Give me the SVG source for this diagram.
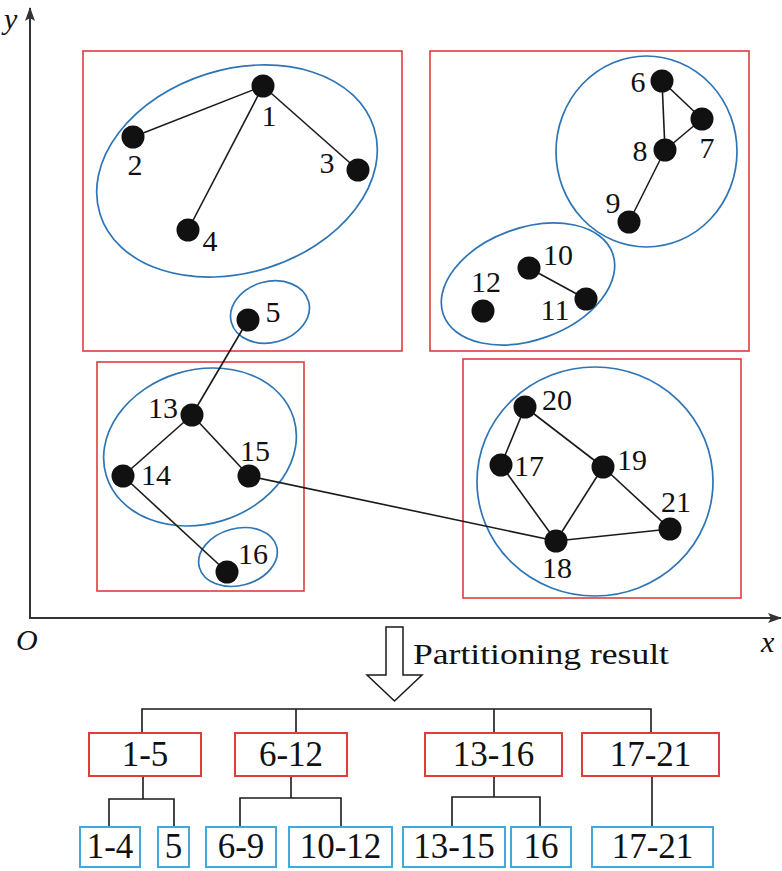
<svg xmlns="http://www.w3.org/2000/svg" width="782" height="871" viewBox="0 0 782 871">
<style>
.edge{stroke:#1a1a1a;stroke-width:1.6;fill:none}
.axis{stroke:#333;stroke-width:2;fill:none}
.rbox{fill:none;stroke:#e03c3c;stroke-width:1.6}
.bbox{fill:#fff;stroke:#42a9da;stroke-width:2}
.rlab{fill:#fff;stroke:#e03c3c;stroke-width:2}
.ell{fill:none;stroke:#2e75b5;stroke-width:1.7}
.node{fill:#111}
.lbl{font-family:'Liberation Serif','Times New Roman',Tinos,serif;font-size:30px;fill:#111;text-anchor:middle}
.tl{font-family:'Liberation Serif','Times New Roman',Tinos,serif;font-size:35px;fill:#111;text-anchor:middle}
.ax{font-family:'Liberation Serif','Times New Roman',Tinos,serif;font-style:italic;font-size:30px;fill:#111}
.pr{font-family:'Liberation Serif','Times New Roman',Tinos,serif;font-size:28.5px;fill:#111}
</style>
<defs>
<marker id="arr" markerWidth="14" markerHeight="10" refX="13" refY="5" orient="auto" markerUnits="userSpaceOnUse">
<path d="M0,0 L14,5 L0,10 L3,5 Z" fill="#333"/>
</marker>
</defs>

<g id="axes">
<line class="axis" x1="30" y1="618" x2="30" y2="8" marker-end="url(#arr)"/>
<line class="axis" x1="29" y1="618" x2="781" y2="618" marker-end="url(#arr)"/>
<text class="ax" x="4" y="29">y</text>
<text class="ax" x="16" y="650">O</text>
<text class="ax" x="761" y="652">x</text>
</g>

<g id="regions">
<rect class="rbox" x="83" y="51" width="319" height="300"/>
<rect class="rbox" x="430" y="51" width="319" height="300"/>
<rect class="rbox" x="97" y="362" width="207" height="229"/>
<rect class="rbox" x="463" y="359" width="278" height="239"/>
</g>

<g id="clusters">
<ellipse class="ell" cx="237" cy="171" rx="143.6" ry="101.6" transform="rotate(-17.5 237 171)"/>
<ellipse class="ell" cx="270" cy="312" rx="40" ry="30.5" transform="rotate(-15 270 312)"/>
<ellipse class="ell" cx="646.5" cy="151.5" rx="90.5" ry="95.5"/>
<ellipse class="ell" cx="528" cy="284" rx="90" ry="56" transform="rotate(-20 528 284)"/>
<ellipse class="ell" cx="200" cy="447" rx="98" ry="77" transform="rotate(-17 200 447)"/>
<ellipse class="ell" cx="238" cy="557" rx="40" ry="28.5" transform="rotate(-15 238 557)"/>
<ellipse class="ell" cx="595" cy="481.5" rx="118" ry="114.5"/>
</g>

<g id="connectors">
<line class="edge" x1="263" y1="86" x2="133" y2="137"/>
<line class="edge" x1="263" y1="86" x2="358" y2="170"/>
<line class="edge" x1="263" y1="86" x2="188" y2="230"/>
<line class="edge" x1="248" y1="320" x2="192" y2="415"/>
<line class="edge" x1="192" y1="415" x2="123" y2="476"/>
<line class="edge" x1="192" y1="415" x2="249" y2="476"/>
<line class="edge" x1="123" y1="476" x2="227" y2="572"/>
<line class="edge" x1="249" y1="476" x2="556" y2="541"/>
<line class="edge" x1="662" y1="81" x2="702" y2="119"/>
<line class="edge" x1="662" y1="81" x2="665" y2="150"/>
<line class="edge" x1="702" y1="119" x2="665" y2="150"/>
<line class="edge" x1="665" y1="150" x2="629" y2="222"/>
<line class="edge" x1="529" y1="268" x2="586" y2="299"/>
<line class="edge" x1="525" y1="407" x2="501" y2="465"/>
<line class="edge" x1="525" y1="407" x2="603" y2="467"/>
<line class="edge" x1="501" y1="465" x2="556" y2="541"/>
<line class="edge" x1="603" y1="467" x2="556" y2="541"/>
<line class="edge" x1="603" y1="467" x2="670" y2="529"/>
<line class="edge" x1="556" y1="541" x2="670" y2="529"/>
</g>

<g id="n1"><circle class="node" cx="263" cy="86" r="11.5"/><text class="lbl" x="269" y="126">1</text></g>
<g id="n2"><circle class="node" cx="133" cy="137" r="11.5"/><text class="lbl" x="135" y="175">2</text></g>
<g id="n3"><circle class="node" cx="358" cy="170" r="11.5"/><text class="lbl" x="327" y="173">3</text></g>
<g id="n4"><circle class="node" cx="188" cy="230" r="11.5"/><text class="lbl" x="210" y="251">4</text></g>
<g id="n5"><circle class="node" cx="248" cy="320" r="11.5"/><text class="lbl" x="273" y="322">5</text></g>
<g id="n6"><circle class="node" cx="662" cy="81" r="11.5"/><text class="lbl" x="638" y="92">6</text></g>
<g id="n7"><circle class="node" cx="702" cy="119" r="11.5"/><text class="lbl" x="707" y="158">7</text></g>
<g id="n8"><circle class="node" cx="665" cy="150" r="11.5"/><text class="lbl" x="640" y="161">8</text></g>
<g id="n9"><circle class="node" cx="629" cy="222" r="11.5"/><text class="lbl" x="613" y="213">9</text></g>
<g id="n10"><circle class="node" cx="529" cy="268" r="11.5"/><text class="lbl" x="558" y="265">10</text></g>
<g id="n11"><circle class="node" cx="586" cy="299" r="11.5"/><text class="lbl" x="555" y="320">11</text></g>
<g id="n12"><circle class="node" cx="483" cy="311" r="11.5"/><text class="lbl" x="486" y="292">12</text></g>
<g id="n13"><circle class="node" cx="192" cy="415" r="11.5"/><text class="lbl" x="163" y="418">13</text></g>
<g id="n14"><circle class="node" cx="123" cy="476" r="11.5"/><text class="lbl" x="156" y="485">14</text></g>
<g id="n15"><circle class="node" cx="249" cy="476" r="11.5"/><text class="lbl" x="255" y="461">15</text></g>
<g id="n16"><circle class="node" cx="227" cy="572" r="11.5"/><text class="lbl" x="253" y="564">16</text></g>
<g id="n17"><circle class="node" cx="501" cy="465" r="11.5"/><text class="lbl" x="529" y="476">17</text></g>
<g id="n18"><circle class="node" cx="556" cy="541" r="11.5"/><text class="lbl" x="557" y="578">18</text></g>
<g id="n19"><circle class="node" cx="603" cy="467" r="11.5"/><text class="lbl" x="632" y="470">19</text></g>
<g id="n20"><circle class="node" cx="525" cy="407" r="11.5"/><text class="lbl" x="557" y="410">20</text></g>
<g id="n21"><circle class="node" cx="670" cy="529" r="11.5"/><text class="lbl" x="676" y="512">21</text></g>

<g id="result-arrow">
<path d="M386,627 L403,627 L403,675 L422,675 L394.5,701 L367,675 L386,675 Z" fill="#fff" stroke="#1a1a1a" stroke-width="1.5"/>
<text class="pr" x="413" y="664" textLength="256" lengthAdjust="spacingAndGlyphs">Partitioning result</text>
</g>

<g id="tree-connectors" class="edge">
<path d="M142,733 V709 H651 V733 M296,709 V733 M494,709 V733"/>
<path d="M143,776 V799 M109,827 V799 H174 V827"/>
<path d="M291,776 V798 M240,827 V798 H341 V827"/>
<path d="M494,776 V797 M452,827 V797 H540 V827"/>
<path d="M652,776 V827"/>
</g>

<g id="t1-5"><rect class="rlab" x="89" y="733" width="112" height="43"/><text class="tl" x="145" y="766">1-5</text></g>
<g id="t6-12"><rect class="rlab" x="235" y="733" width="112" height="43"/><text class="tl" x="291" y="766">6-12</text></g>
<g id="t13-16"><rect class="rlab" x="425" y="733" width="137" height="43"/><text class="tl" x="493.5" y="766">13-16</text></g>
<g id="t17-21"><rect class="rlab" x="582" y="733" width="137" height="43"/><text class="tl" x="650.5" y="766">17-21</text></g>

<g id="t1-4"><rect class="bbox" x="80" y="827" width="60" height="40"/><text class="tl" x="110" y="858">1-4</text></g>
<g id="t5"><rect class="bbox" x="158" y="827" width="31" height="40"/><text class="tl" x="173.5" y="858">5</text></g>
<g id="t6-9"><rect class="bbox" x="206" y="827" width="70" height="40"/><text class="tl" x="241" y="858">6-9</text></g>
<g id="t10-12"><rect class="bbox" x="289" y="827" width="103" height="40"/><text class="tl" x="340.5" y="858">10-12</text></g>
<g id="t13-15"><rect class="bbox" x="403" y="827" width="102" height="40"/><text class="tl" x="454" y="858">13-15</text></g>
<g id="t16"><rect class="bbox" x="511" y="827" width="60" height="40"/><text class="tl" x="541" y="858">16</text></g>
<g id="t17-21b"><rect class="bbox" x="592" y="827" width="121" height="40"/><text class="tl" x="652.5" y="858">17-21</text></g>
</svg>
